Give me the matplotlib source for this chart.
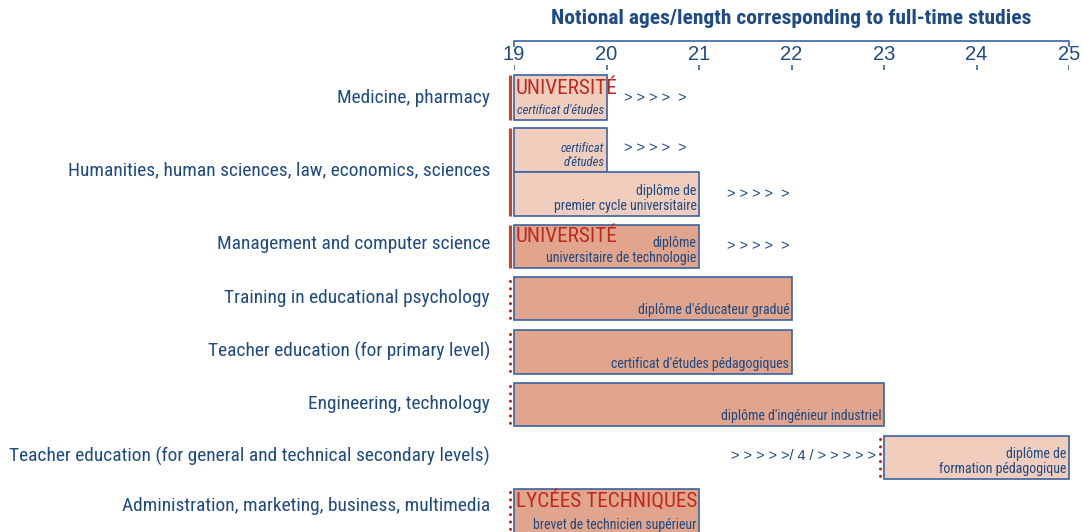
import matplotlib.pyplot as plt

# categories (left labels) and their row centres
categories = ['Medicine, pharmacy',
              'Humanities, human sciences, law, economics, sciences',
              'Management and computer science',
              'Training in educational psychology',
              'Teacher education (for primary level)',
              'Engineering, technology',
              'Teacher education (for general and technical secondary levels)',
              'Administration, marketing, business, multimedia']
cat_y = [98, 170, 244, 298, 351, 404, 456, 506]

# programmes: start age, duration, label, tone
bar_start = [19, 19, 19, 19, 19, 19, 19, 23, 19]
bar_len = [1, 1, 2, 2, 3, 3, 4, 2, 2]
bar_label = ["certificat d'études", "certificat\nd'études",
             "diplôme de\npremier cycle universitaire",
             "diplôme\nuniversitaire de technologie",
             "diplôme d'éducateur gradué",
             "certificat d'études pédagogiques",
             "diplôme d'ingénieur industriel",
             "diplôme de\nformation pédagogique",
             "brevet de technicien supérieur"]
bar_tone = ['light', 'light', 'light', 'dark', 'dark', 'dark', 'dark', 'light', 'dark']
bar_italic = [True, True, False, False, False, False, False, False, False]
# vertical extents (pixel rows)
bar_top = [75, 128, 172, 225, 277, 330, 383, 436, 489]
bar_h = [45, 44, 44, 43, 43, 44, 43, 43, 46]

ages = [19, 20, 21, 22, 23, 24, 25]

# institution headers
inst_text = ['UNIVERSITÉ', 'UNIVERSITÉ', 'LYCÉES TECHNIQUES']
inst_y = [89, 237, 500]

# continuation arrows
arrow_text = ['> > > >  >', '> > > >  >', '> > > >  >', '> > > >  >',
              '> > > > >/ 4 / > > > > >']
arrow_x = [20.19, 20.19, 21.3, 21.3, 21.35]
arrow_y = [98, 148, 194, 246, 456]

# entry markers: x, top, bottom, solid?
mark_x = [18.955, 18.955, 18.955, 18.955, 18.955, 18.955, 22.96, 18.955]
mark_top = [75, 128, 225, 281, 334, 386, 439, 492]
mark_bot = [120, 216, 268, 320, 374, 427, 479, 532]
mark_solid = [True, True, True, False, False, False, False, False]

blue = '#1f4a84'
edge = '#3a64a0'
red = '#c0281e'
fills = {'light': '#f0cdbd', 'dark': '#e0a58c'}
sans = ['Liberation Sans', 'DejaVu Sans']
cond = ['Roboto Condensed', 'Liberation Sans', 'DejaVu Sans']

fig = plt.figure(figsize=(10.83, 5.32), dpi=100)
ax = fig.add_axes([514 / 1083, 0, 555 / 1083, 1])
ax.set_xlim(19, 25)
ax.set_ylim(532, 0)
ax.axis('off')
renderer = fig.canvas.get_renderer()


def fit(texts, ref, target):
    # scale a group of texts so that the reference one is target pixels wide
    w = ref.get_window_extent(renderer).width
    size = ref.get_fontsize() * target / w
    for t in texts:
        t.set_fontsize(size)


for s, w, t, h, tone in zip(bar_start, bar_len, bar_top, bar_h, bar_tone):
    ax.barh(t, w, height=h, left=s, align='edge', color=fills[tone],
            edgecolor=edge, linewidth=1.2, clip_on=False)

btexts = []
for s, w, t, h, lab, it in zip(bar_start, bar_len, bar_top, bar_h, bar_label, bar_italic):
    btexts.append(ax.text(s + w - 0.025, t + h - 3, lab, ha='right', va='bottom',
                          color=blue, fontsize=10, family=cond,
                          style='italic' if it else 'normal', linespacing=1.1))
fit(btexts[2:], btexts[5], 178)
fit(btexts[:2], btexts[0], 87)

itexts = []
for txt, y in zip(inst_text, inst_y):
    itexts.append(ax.text(19.02, y, txt, ha='left', va='center', color=red,
                          fontsize=12, family=cond))
fit(itexts, itexts[2], 181)

atexts = []
for txt, x, y in zip(arrow_text, arrow_x, arrow_y):
    atexts.append(ax.text(x, y, txt, ha='left', va='center', color=blue,
                          fontsize=9, family=sans))
fit(atexts, atexts[4], 145)

for x, t, b, solid in zip(mark_x, mark_top, mark_bot, mark_solid):
    if solid:
        ax.vlines(x, t, b, color='#c8472b', linewidth=2.3, clip_on=False)
    else:
        lc = ax.vlines(x, t, b, color='#b8221c', linewidth=2.2,
                       linestyles=(0, (0.01, 2.4)), clip_on=False)
        lc.set_capstyle('round')

ctexts = []
for lab, y in zip(categories, cat_y):
    ctexts.append(ax.text(19 - 24 / 92.5, y, lab, ha='right', va='center',
                          color=blue, fontsize=12, family=cond))
fit(ctexts, ctexts[6], 478)

# age scale at the top
ax.plot([ages[0], ages[0], ages[-1], ages[-1]], [46, 41, 41, 46], color=edge,
        linewidth=1.2, clip_on=False)
for a in ages:
    ax.text(a, 55, str(a), ha='center', va='center', color=blue, fontsize=14.5,
            family=sans)
ax.vlines(ages, 65, 70, color=edge, linewidth=1.2)

title = ax.text(sum(ax.get_xlim()) / 2, 19,
                'Notional ages/length corresponding to full-time studies',
                ha='center', va='center', color=blue, fontsize=13,
                fontweight='bold', family=cond)
fit([title], title, 477)

fig.savefig('out.png', dpi=100)
